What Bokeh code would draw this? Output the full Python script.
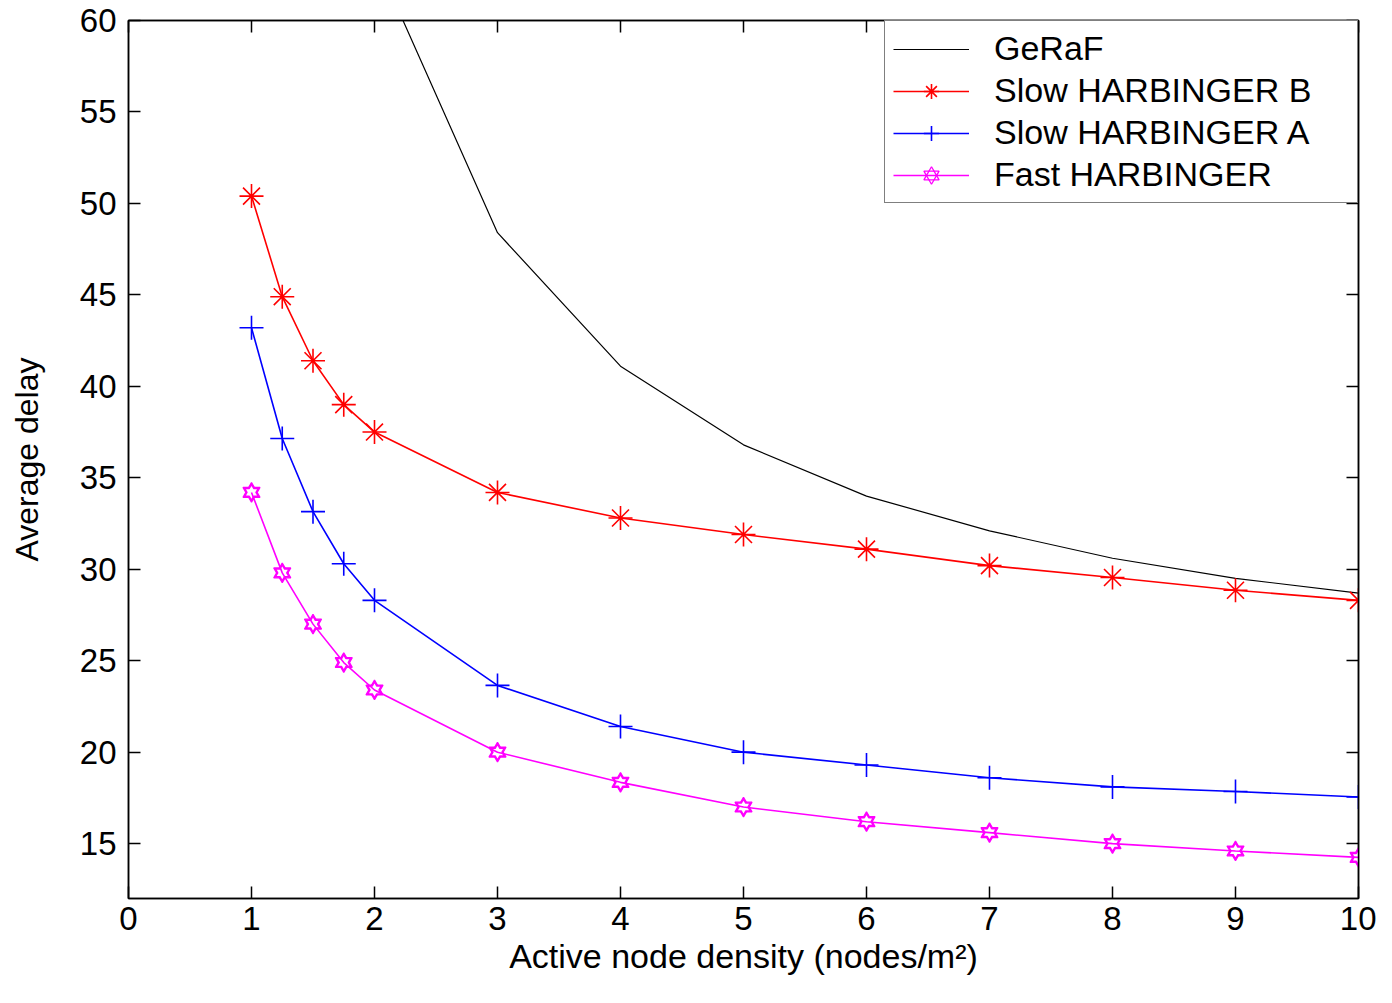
from bokeh.plotting import figure
from bokeh.models import Range1d, LinearAxis, FixedTicker, Legend, LegendItem, CustomJSTickFormatter
from bokeh.embed import file_html
from bokeh.resources import INLINE

# ---- data ----
density = [1, 1.25, 1.5, 1.75, 2, 3, 4, 5, 6, 7, 8, 9, 10]
geraf_x = [2, 3, 4, 5, 6, 7, 8, 9, 10]
geraf = [63.5, 48.4, 41.1, 36.8, 34.0, 32.1, 30.6, 29.5, 28.7]
slow_b = [50.4, 44.9, 41.4, 39.0, 37.5, 34.2, 32.8, 31.9, 31.1, 30.2, 29.55, 28.85, 28.3]
slow_a = [43.2, 37.15, 33.15, 30.3, 28.3, 23.65, 21.4, 20.0, 19.3, 18.6, 18.1, 17.85, 17.55]
fast = [34.2, 29.8, 27.0, 24.9, 23.4, 20.0, 18.35, 17.0, 16.2, 15.6, 15.0, 14.6, 14.25]
x_ticks = list(range(0, 11))
y_ticks = list(range(15, 61, 5))
labels = ["GeRaF", "Slow HARBINGER B", "Slow HARBINGER A", "Fast HARBINGER"]

FONT = "Liberation Sans"

p = figure(width=1376, height=987, x_range=Range1d(0, 10), y_range=Range1d(12, 60),
           output_backend="svg", toolbar_location=None,
           min_border_left=128, min_border_right=18, min_border_top=20, min_border_bottom=89)
p.xgrid.visible = False
p.ygrid.visible = False
p.outline_line_color = "black"
p.outline_line_width = 1.5
p.background_fill_color = "white"
p.border_fill_color = "white"


def style(ax, ticks, show_labels=True):
    ax.ticker = FixedTicker(ticks=ticks)
    ax.major_tick_in = 12
    ax.major_tick_out = 0
    ax.minor_tick_in = 0
    ax.minor_tick_out = 0
    ax.axis_line_color = "black"
    ax.axis_line_width = 1.5
    ax.major_tick_line_color = "black"
    ax.major_tick_line_width = 1.5
    ax.major_label_text_font = FONT
    ax.major_label_text_font_size = "33px"
    ax.major_label_text_color = "black"
    if not show_labels:
        ax.formatter = CustomJSTickFormatter(code="return ''")
        ax.major_label_standoff = 0


style(p.xaxis[0], x_ticks)
style(p.yaxis[0], y_ticks)
p.xaxis[0].major_label_standoff = 8
p.yaxis[0].major_label_standoff = 12
p.xaxis[0].axis_label = "Active node density (nodes/m\u00b2)"
p.yaxis[0].axis_label = "Average delay"
for ax in (p.xaxis[0], p.yaxis[0]):
    ax.axis_label_text_font = FONT
    ax.axis_label_text_font_style = "normal"
    ax.axis_label_text_color = "black"
p.xaxis[0].axis_label_text_font_size = "34px"
p.yaxis[0].axis_label_text_font_size = "32px"
p.xaxis[0].axis_label_standoff = 4
p.yaxis[0].axis_label_standoff = 32

top = LinearAxis()
style(top, x_ticks, False)
p.add_layout(top, "above")
right = LinearAxis()
style(right, y_ticks, False)
p.add_layout(right, "right")

# ---- series ----
RED, BLUE, MAG = "#FF0000", "#0000FF", "#FF00FF"

l_g = p.line(geraf_x, geraf, line_color="black", line_width=1.2)

l_b = p.line(density, slow_b, line_color=RED, line_width=1.6)
s_b = p.scatter(density, slow_b, marker="asterisk", size=24, line_color=RED, line_width=1.6)

l_a = p.line(density, slow_a, line_color=BLUE, line_width=1.6)
s_a = p.scatter(density, slow_a, marker="cross", size=24, line_color=BLUE, line_width=1.6)

# hexagram markers: outline triangles (used by legend), filled magenta star,
# smaller white star on top -> hollow hexagram; line drawn last through it
h1 = p.scatter(density, fast, marker="triangle", size=17, fill_color=None, line_color=MAG, line_width=1.3)
h2 = p.scatter(density, fast, marker="inverted_triangle", size=17, fill_color=None, line_color=MAG, line_width=1.3)
p.scatter(density, fast, marker="triangle", size=17, fill_color=MAG, line_color=None)
p.scatter(density, fast, marker="inverted_triangle", size=17, fill_color=MAG, line_color=None)
p.scatter(density, fast, marker="triangle", size=11, fill_color="white", line_color=None)
p.scatter(density, fast, marker="inverted_triangle", size=11, fill_color="white", line_color=None)
l_f = p.line(density, fast, line_color=MAG, line_width=1.6)

legend = Legend(items=[
    LegendItem(label=labels[0], renderers=[l_g]),
    LegendItem(label=labels[1], renderers=[l_b, s_b]),
    LegendItem(label=labels[2], renderers=[l_a, s_a]),
    LegendItem(label=labels[3], renderers=[h1, h2, l_f]),
], location="top_right")
legend.margin = 0
legend.padding = 8
legend.spacing = 3
legend.glyph_width = 76
legend.glyph_height = 38
legend.label_height = 38
legend.label_standoff = 25
legend.label_width = 355
legend.label_text_font = FONT
legend.label_text_font_size = "34px"
legend.label_text_color = "black"
legend.border_line_color = "black"
legend.border_line_width = 1.5
legend.background_fill_color = "white"
legend.background_fill_alpha = 1.0
p.add_layout(legend, "center")

open("out.html", "w").write(file_html(p, INLINE))
